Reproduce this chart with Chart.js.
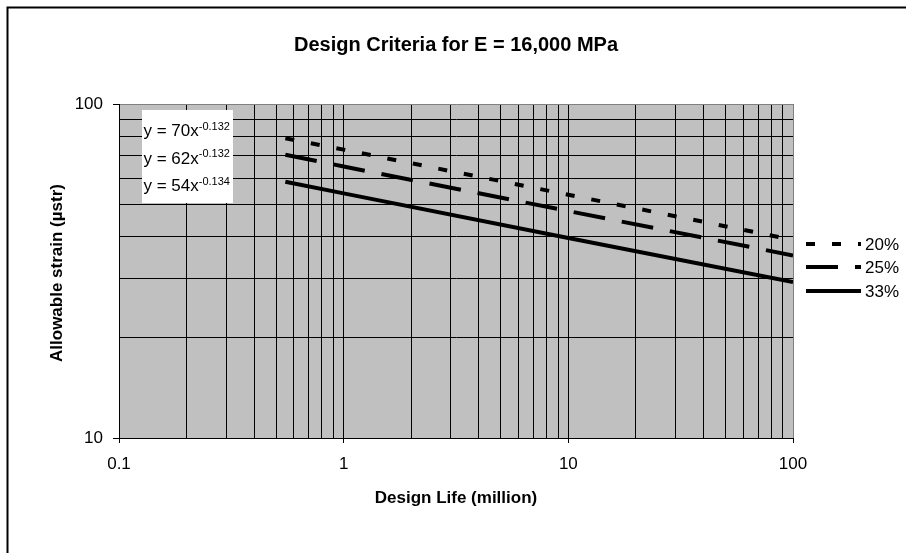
<!DOCTYPE html>
<html>
<head>
<meta charset="utf-8">
<title>Design Criteria for E = 16,000 MPa</title>
<script src="https://cdn.jsdelivr.net/npm/chart.js@4.4.1/dist/chart.umd.min.js"></script>
<style>
  html, body { margin: 0; padding: 0; background: #fff; }
  #wrap { width: 906px; height: 553px; }
</style>
</head>
<body>
<div id="wrap"><canvas id="myChart" width="906" height="553"></canvas></div>
<script>
// design life (million load repetitions) where each criterion line is read
const designLife = [0.55, 1, 10, 100];
// allowable strain (microstrain) for each criterion
const strain20 = [79, 73, 53.5, 39.2];
const strain25 = [70.5, 65, 47.8, 35.2];
const strain33 = [58.5, 54, 39.7, 29.3];
const seriesNames = ["20%", "25%", "33%"];
// fitted power laws shown in the box: [base, exponent]
const equations = [["y = 70x", "-0.132"], ["y = 62x", "-0.132"], ["y = 54x", "-0.134"]];

const xLabelTicks = [0.1, 1, 10, 100];
const yLabelTicks = [10, 100];
const decadeSteps = [1, 2, 3, 4, 5, 6, 7, 8, 9];

const FONT = '"Liberation Sans", Arial, sans-serif';

// log gridlines: every step inside each decade
function logGrid(decades, last) {
  const out = [];
  decades.forEach(d => decadeSteps.forEach(s => out.push(Number((d * s).toPrecision(6)))));
  out.push(last);
  return out;
}
const xGridTicks = logGrid([0.1, 1, 10], 100);
const yGridTicks = logGrid([10], 100);

function pts(ys) {
  return designLife.map((x, i) => ({ x: x, y: ys[i] }));
}

Chart.defaults.font.family = FONT;
Chart.defaults.color = '#000';

const plotBackground = {
  id: 'plotBackground',
  beforeDraw(chart) {
    const { ctx, chartArea: a } = chart;
    ctx.save();
    ctx.fillStyle = '#fff';
    ctx.fillRect(0, 0, chart.width, chart.height);
    ctx.fillStyle = '#c0c0c0';
    ctx.fillRect(a.left, a.top, a.right - a.left, a.bottom - a.top);
    ctx.restore();
  }
};

const decorations = {
  id: 'decorations',
  afterDraw(chart) {
    const { ctx, chartArea: a } = chart;
    ctx.save();

    // outer chart frame
    ctx.strokeStyle = '#000';
    ctx.lineWidth = 2;
    ctx.strokeRect(7.5, 7.5, 910, 560);

    // chart title
    ctx.fillStyle = '#000';
    ctx.textAlign = 'center';
    ctx.textBaseline = 'alphabetic';
    ctx.font = 'bold 20px ' + FONT;
    ctx.fillText('Design Criteria for E = 16,000 MPa', 456, 51);

    // axis titles
    ctx.font = 'bold 17px ' + FONT;
    ctx.fillText('Design Life (million)', (a.left + a.right) / 2, 503);
    ctx.save();
    ctx.translate(62, (a.top + a.bottom) / 2 + 2);
    ctx.rotate(-Math.PI / 2);
    ctx.fillText('Allowable strain (\u00b5str)', 0, 0);
    ctx.restore();

    // equation box
    ctx.fillStyle = '#fff';
    ctx.fillRect(142, 110, 91, 93);
    ctx.fillStyle = '#000';
    ctx.textAlign = 'left';
    equations.forEach((eq, i) => {
      const base = 136 + i * 27.5;
      ctx.font = '17px ' + FONT;
      ctx.fillText(eq[0], 143.5, base);
      const w = ctx.measureText(eq[0]).width;
      ctx.font = '11px ' + FONT;
      ctx.fillText(eq[1], 143.5 + w, base - 6.5);
    });

    // legend
    const rows = [244, 267, 291];
    chart.data.datasets.forEach((ds, i) => {
      const y = rows[i];
      ctx.beginPath();
      ctx.setLineDash(ds.borderDash || []);
      ctx.lineDashOffset = 0;
      ctx.lineWidth = ds.borderWidth;
      ctx.strokeStyle = ds.borderColor;
      ctx.lineCap = 'butt';
      ctx.moveTo(806, y);
      ctx.lineTo(861, y);
      ctx.stroke();
      ctx.setLineDash([]);
      ctx.font = '17px ' + FONT;
      ctx.fillStyle = '#000';
      ctx.fillText(ds.label, 865, y + 6);
    });

    ctx.restore();
  }
};

const lineStyle = { borderColor: '#000', borderWidth: 4, pointRadius: 0, fill: false, tension: 0, borderCapStyle: 'butt' };

const myChart = new Chart(document.getElementById('myChart').getContext('2d'), {
  type: 'line',
  data: {
    datasets: [
      Object.assign({ label: seriesNames[0], data: pts(strain20), borderDash: [9, 17] }, lineStyle),
      Object.assign({ label: seriesNames[1], data: pts(strain25), borderDash: [32, 17] }, lineStyle),
      Object.assign({ label: seriesNames[2], data: pts(strain33), borderDash: [] }, lineStyle)
    ]
  },
  options: {
    responsive: false,
    animation: false,
    events: [],
    layout: { padding: { top: 104, right: 113, bottom: 0, left: 0 } },
    plugins: { legend: { display: false }, title: { display: false }, tooltip: { enabled: false } },
    scales: {
      x: {
        type: 'logarithmic',
        min: 0.1,
        max: 100,
        afterFit: s => { s.height = 115; },
        afterBuildTicks: s => { s.ticks = xGridTicks.map(v => ({ value: v })); },
        ticks: {
          autoSkip: false, maxRotation: 0, padding: 11, color: '#000', font: { size: 17 },
          callback: v => xLabelTicks.includes(v) ? String(v) : ''
        },
        grid: {
          color: c => (c.tick && c.tick.value === 100) ? '#808080' : '#000',
          lineWidth: 1,
          tickLength: 5,
          tickColor: c => (c.tick && xLabelTicks.includes(c.tick.value)) ? '#000' : 'rgba(0,0,0,0)'
        },
        border: { color: '#000', width: 1 }
      },
      y: {
        type: 'logarithmic',
        min: 10,
        max: 100,
        afterFit: s => { s.width = 119; },
        afterBuildTicks: s => { s.ticks = yGridTicks.map(v => ({ value: v })); },
        ticks: {
          autoSkip: false, padding: 10, color: '#000', font: { size: 17 },
          callback: v => yLabelTicks.includes(v) ? String(v) : ''
        },
        grid: {
          color: c => (c.tick && c.tick.value === 100) ? '#808080' : '#000',
          lineWidth: 1,
          tickLength: 6,
          tickColor: c => (c.tick && yLabelTicks.includes(c.tick.value)) ? '#000' : 'rgba(0,0,0,0)'
        },
        border: { color: '#000', width: 1 }
      }
    }
  },
  plugins: [plotBackground, decorations]
});
</script>
</body>
</html>
